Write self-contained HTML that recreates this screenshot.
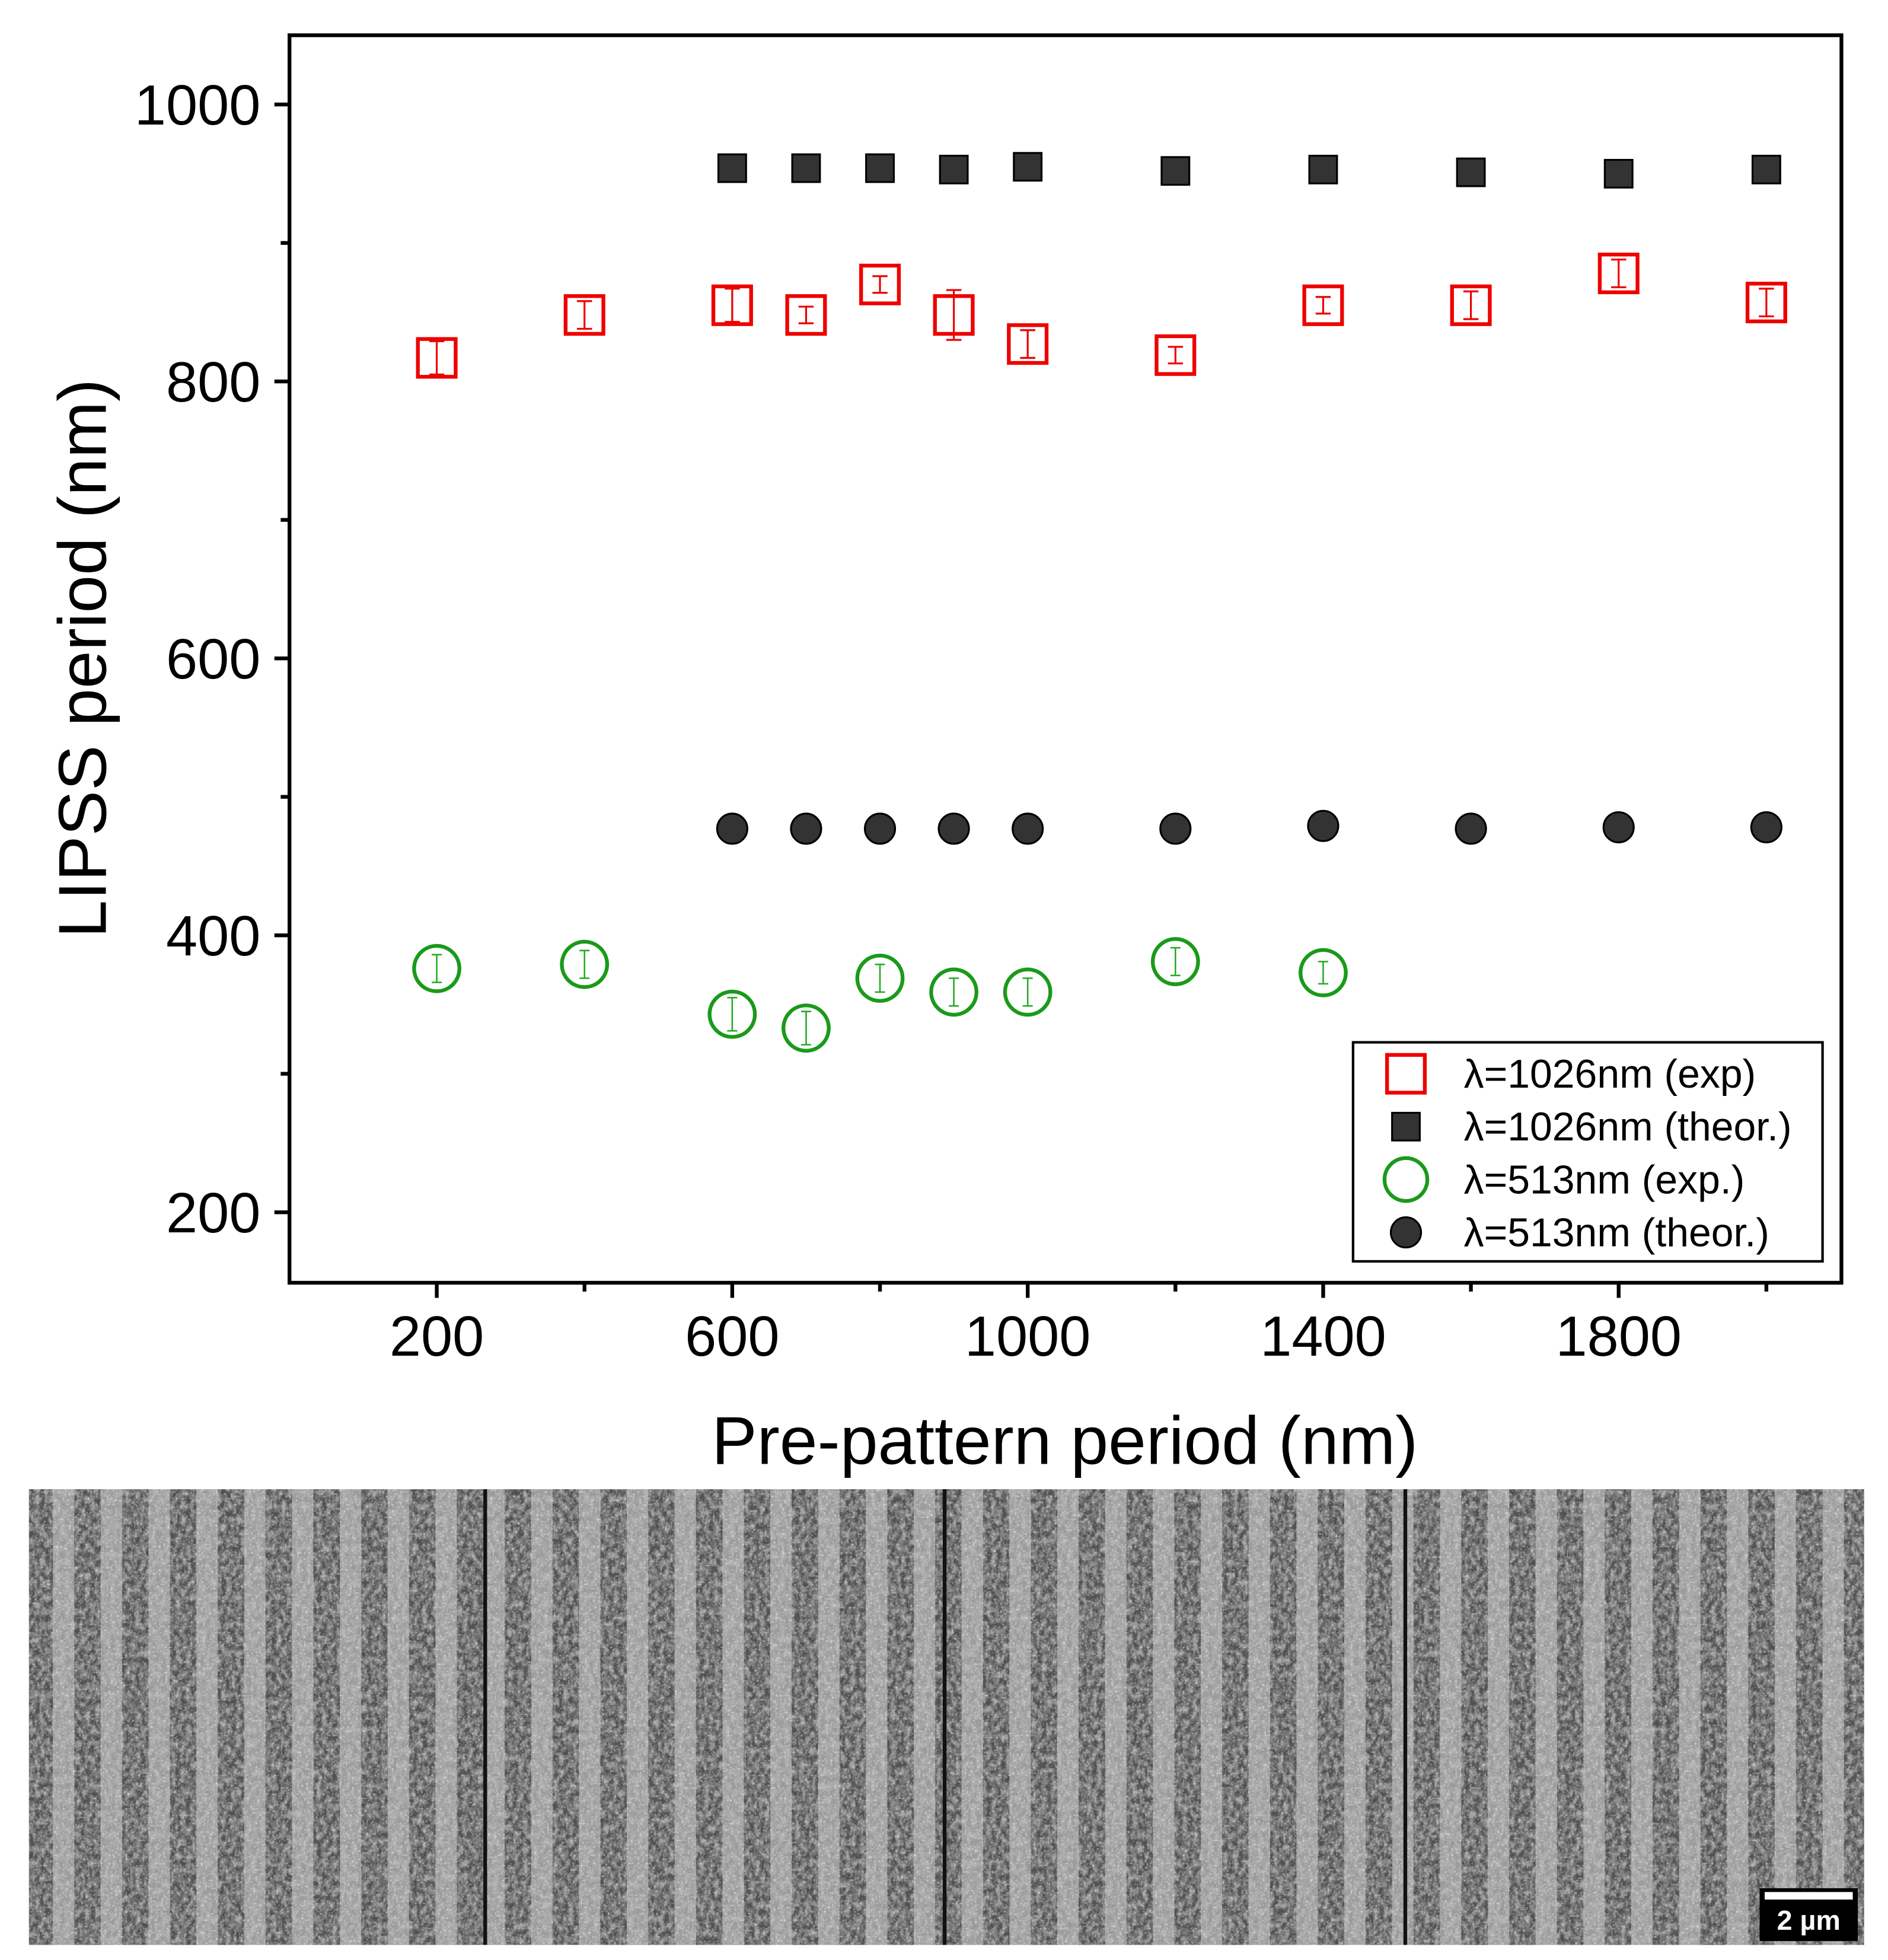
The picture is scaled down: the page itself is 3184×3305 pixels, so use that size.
<!DOCTYPE html>
<html><head><meta charset="utf-8"><style>
html,body{margin:0;padding:0;background:#fff}
svg{display:block}
text{font-family:"Liberation Sans",Arial,sans-serif}
</style></head><body>
<svg id="fig" width="3184" height="3305" viewBox="0 0 1500 1557" preserveAspectRatio="none" xmlns="http://www.w3.org/2000/svg">
<defs>
<filter id="noise" x="0" y="0" width="100%" height="100%">
<feTurbulence type="fractalNoise" baseFrequency="0.25 0.18" numOctaves="3" seed="7"/>
<feColorMatrix type="matrix" values="0 0 0 0 0.5  0 0 0 0 0.5  0 0 0 0 0.5  0 0 0 -2 1.4"/>
</filter>
<filter id="noise2" x="0" y="0" width="100%" height="100%">
<feTurbulence type="fractalNoise" baseFrequency="0.6" numOctaves="1" seed="2"/>
<feColorMatrix type="matrix" values="0 0 0 0 1  0 0 0 0 1  0 0 0 0 1  0 0 0 3 -1.6"/>
</filter>
<pattern id="stripes" width="38" height="10" patternUnits="userSpaceOnUse">
<rect width="38" height="10" fill="#505050"/>
<rect x="4" width="17" height="10" fill="#9a9a9a"/>
</pattern>
</defs>
<g id="plot"></g>
<g id="sem">
<rect x="23" y="1183" width="1458" height="362" fill="url(#stripes)"/>
<rect x="23" y="1183" width="1458" height="362" fill="#777" filter="url(#noise)" opacity="0.8"/>
<rect x="23" y="1183" width="1458" height="362" fill="#fff" filter="url(#noise2)" opacity="0.6"/>
<rect x="384" y="1183" width="3" height="362" fill="#111"/>
<rect x="749" y="1183" width="3" height="362" fill="#111"/>
<rect x="1115" y="1183" width="3" height="362" fill="#111"/>
<g>
<rect x="1398" y="1500" width="78" height="42" fill="#000"/>
<rect x="1402" y="1503" width="70" height="6" fill="#fff"/>
<text x="1437" y="1533" font-size="22" font-weight="bold" fill="#fff" text-anchor="middle">2 µm</text>
</g>
</g>
</svg>
<script>
const xCats=[200,400,600,700,800,900,1000,1200,1400,1600,1800,2000];
const redExp=[817,848,855,848,870,848,827,819,855,855,878,857];
const redErr=[12,10,12,6,6,18,10,6,6,10,10,10];
const blackTheorX=[600,700,800,900,1000,1200,1400,1600,1800,2000];
const blackTheor=[954,954,954,953,955,952,953,951,950,953];
const circTheor=[477,477,477,477,477,477,479,477,478,478];
const greenX=[200,400,600,700,800,900,1000,1200,1400];
const greenExp=[376,379,343,333,369,359,359,381,373];
const greenErr=[10,10,12,12,10,10,10,10,8];
const xTicks=[200,600,1000,1400,1800];
const yTicks=[200,400,600,800,1000];

const NS="http://www.w3.org/2000/svg";
const g=document.getElementById('plot');
const X=v=>347+(v-200)*939/1600;
const Y=v=>83+(1000-v)*1.1;
function mk(t,a,p){const e=document.createElementNS(NS,t);for(const k in a)e.setAttribute(k,a[k]);(p||g).appendChild(e);return e;}

const box=mk('rect',{x:230,y:28,width:1233,height:991,fill:'none',stroke:'#000','stroke-width':3});


for(let v=200;v<=1000;v+=100){
 const major=v%200===0;
 const t=mk('line',{x1:230,x2:major?218:223,y1:Y(v),y2:Y(v),stroke:'#000','stroke-width':3});
 
 
}
yTicks.forEach(v=>{const t=mk('text',{x:207,y:Y(v)+16,'font-size':45,'text-anchor':'end'});t.textContent=v;
 
 });
for(let v=200;v<=2000;v+=200){
 const major=(v-200)%400===0;
 const t=mk('line',{x1:X(v),x2:X(v),y1:1019,y2:major?1031:1026,stroke:'#000','stroke-width':3});
 
 
}
xTicks.forEach(v=>{const t=mk('text',{x:X(v),y:1077,'font-size':45,'text-anchor':'middle'});t.textContent=v;
 
 });
const xt=mk('text',{x:846,y:1163,'font-size':54,'text-anchor':'middle'});xt.textContent='Pre-pattern period (nm)';


const yt=mk('text',{x:0,y:0,'font-size':54,'text-anchor':'middle',transform:'translate(84,523) rotate(-90)'});yt.textContent='LIPSS period (nm)';



blackTheorX.forEach((x,i)=>{const r=mk('rect',{x:X(x)-11,y:Y(blackTheor[i])-11,width:22,height:22,fill:'#333',stroke:'#000','stroke-width':1.5});
 
 });
blackTheorX.forEach((x,i)=>{const c=mk('circle',{cx:X(x),cy:Y(circTheor[i]),r:12,fill:'#333',stroke:'#000','stroke-width':1.5});
 
 });
xCats.forEach((x,i)=>{const cx=X(x),cy=Y(redExp[i]),e=redErr[i]*1.1;
 const gg=mk('g',{});
 
 
 mk('line',{x1:cx,x2:cx,y1:cy-e,y2:cy+e,stroke:'#e00','stroke-width':1.5},gg);
 mk('line',{x1:cx-6,x2:cx+6,y1:cy-e,y2:cy-e,stroke:'#e00','stroke-width':1.5},gg);
 mk('line',{x1:cx-6,x2:cx+6,y1:cy+e,y2:cy+e,stroke:'#e00','stroke-width':1.5},gg);
 mk('rect',{x:cx-15,y:cy-15,width:30,height:30,fill:'none',stroke:'#e00','stroke-width':3},gg);});
greenX.forEach((x,i)=>{const cx=X(x),cy=Y(greenExp[i]),e=greenErr[i]*1.1;
 const gg=mk('g',{});
 
 
 mk('line',{x1:cx,x2:cx,y1:cy-e,y2:cy+e,stroke:'#2a2','stroke-width':1.2},gg);
 mk('line',{x1:cx-4,x2:cx+4,y1:cy-e,y2:cy-e,stroke:'#2a2','stroke-width':1.2},gg);
 mk('line',{x1:cx-4,x2:cx+4,y1:cy+e,y2:cy+e,stroke:'#2a2','stroke-width':1.2},gg);
 mk('circle',{cx:cx,cy:cy,r:18,fill:'none',stroke:'#1a9a1a','stroke-width':3},gg);});

const lg=mk('g',{});


mk('rect',{x:1075,y:828,width:373,height:174,fill:'#fff',stroke:'#000','stroke-width':2},lg);
const labels=['λ=1026nm (exp)','λ=1026nm (theor.)','λ=513nm (exp.)','λ=513nm (theor.)'];
const ly=[853,895,937,979];
mk('rect',{x:1102,y:838,width:30,height:30,fill:'none',stroke:'#e00','stroke-width':3},lg);
mk('rect',{x:1106,y:884,width:22,height:22,fill:'#333',stroke:'#000','stroke-width':1.5},lg);
mk('circle',{cx:1117,cy:937,r:17,fill:'none',stroke:'#1a9a1a','stroke-width':3},lg);
mk('circle',{cx:1117,cy:979,r:12,fill:'#333',stroke:'#000','stroke-width':1.5},lg);
labels.forEach((s,i)=>{const t=mk('text',{x:1163,y:ly[i]+11,'font-size':32},lg);t.textContent=s;
 
 });
</script>
</body></html>
